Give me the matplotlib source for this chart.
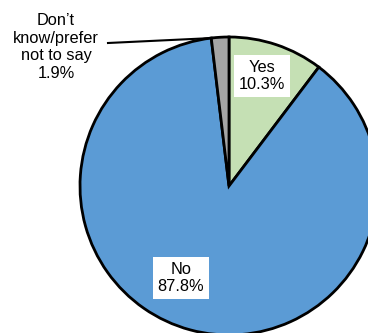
import matplotlib.pyplot as plt

labels = ["Yes", "No", "Don\u2019t\nknow/prefer\nnot to say"]
values = [10.3, 87.8, 1.9]
colors = ["#C5E0B4", "#5B9BD5", "#A5A5A5"]

plt.rcParams['font.family'] = ['Liberation Sans', 'DejaVu Sans']

fig = plt.figure(figsize=(3.68, 3.33), dpi=100)
ax = fig.add_axes([0, 0, 1, 1])

# pie sits off to the right, clipped by the canvas
cx, cy, r = 229, 147, 149
ax.pie(values, colors=colors, startangle=90, counterclock=False,
       center=(cx, cy), radius=r, frame=True,
       wedgeprops=dict(edgecolor='black', linewidth=2.0))
ax.set_xlim(0, 368)
ax.set_ylim(0, 333)
ax.set_aspect('equal')
ax.axis('off')

box = dict(boxstyle='square,pad=0.3', facecolor='white', edgecolor='none')
fs = 11.8
ax.text(262, 257, f"{labels[0]}\n{values[0]:.1f}%", ha='center', va='center',
        fontsize=fs, bbox=box, linespacing=1.2)
ax.text(181, 55, f"{labels[1]}\n{values[1]:.1f}%", ha='center', va='center',
        fontsize=fs, bbox=box, linespacing=1.2)
ax.text(56, 286, f"{labels[2]}\n{values[2]:.1f}%", ha='center', va='center',
        fontsize=fs, linespacing=1.2)
ax.plot([108, 213], [290, 295], color='black', lw=1.5)

fig.savefig("out.png", dpi=100)
